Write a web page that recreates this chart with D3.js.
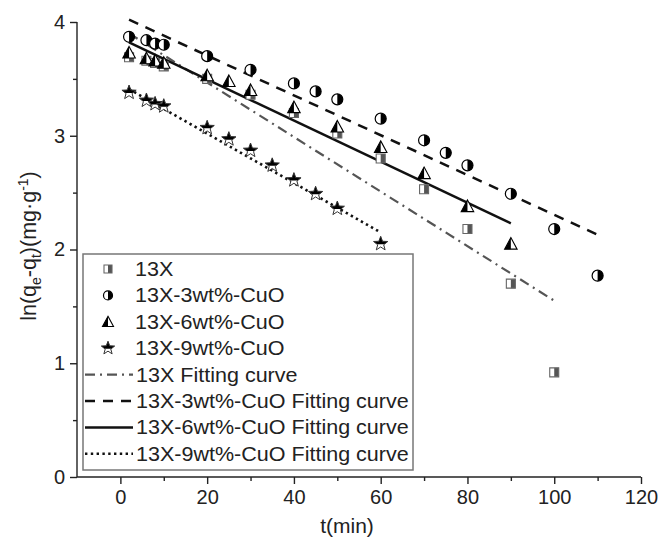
<!DOCTYPE html>
<html><head><meta charset="utf-8">
<script src="https://cdn.jsdelivr.net/npm/d3@7"></script>
<style>
html,body{margin:0;padding:0;background:#fff;}
text{font-family:"Liberation Sans",Arial,sans-serif;}
</style></head>
<body><svg id="c" width="658" height="551"></svg>
<script>
// ---- data ----
const t13X = [2,6,8,10,20,30,40,50,60,70,80,90,100];
const y13X = [3.69,3.66,3.64,3.61,3.50,3.36,3.20,3.02,2.80,2.53,2.18,1.70,0.92];
const t3 = [2,6,8,10,20,30,40,45,50,60,70,75,80,90,100,110];
const y3 = [3.87,3.84,3.81,3.80,3.70,3.58,3.46,3.39,3.32,3.15,2.96,2.85,2.74,2.49,2.18,1.77];
const t6 = [2,6,8,10,20,25,30,40,50,60,70,80,90];
const y6 = [3.73,3.68,3.66,3.64,3.53,3.48,3.40,3.25,3.08,2.90,2.67,2.38,2.05];
const t9 = [2,6,8,10,20,25,30,35,40,45,50,60];
const y9 = [3.38,3.31,3.28,3.26,3.07,2.97,2.87,2.74,2.61,2.49,2.36,2.05];
const fitT13X = [2,100], fitY13X = [3.90,1.55];
const fitT3 = [2,110], fitY3 = [4.02,2.13];
const fitT6 = [2,90], fitY6 = [3.82,2.23];
const fitT9 = [2,60], fitY9 = [3.41,2.15];
const xTicks = [0,20,40,60,80,100,120];
const yTicks = [0,1,2,3,4];
const legendLabels = ["13X","13X-3wt%-CuO","13X-6wt%-CuO","13X-9wt%-CuO",
  "13X Fitting curve","13X-3wt%-CuO Fitting curve","13X-6wt%-CuO Fitting curve","13X-9wt%-CuO Fitting curve"];

const svg = d3.select("#c");
const x = d3.scaleLinear().domain([-10,120]).range([77,641]);
const y = d3.scaleLinear().domain([0,4]).range([477,22]);
const defs = svg.append("defs");

// axes
const gx = svg.append("g").attr("transform","translate(0,477)")
  .call(d3.axisBottom(x).tickValues(xTicks).tickSize(7).tickPadding(6).tickFormat(d3.format("d")));
svg.append("g").attr("transform","translate(0,477)")
  .call(d3.axisBottom(x).tickValues([10,30,50,70,90,110]).tickSize(4).tickFormat(""))
  .select(".domain").remove();
const gy = svg.append("g").attr("transform","translate(77,0)")
  .call(d3.axisLeft(y).tickValues(yTicks).tickSize(7).tickPadding(5).tickFormat(d3.format("d")));
svg.append("g").attr("transform","translate(77,0)")
  .call(d3.axisLeft(y).tickValues([0.5,1.5,2.5,3.5]).tickSize(4).tickFormat(""))
  .select(".domain").remove();
svg.selectAll(".domain").attr("stroke","#222").attr("stroke-width",1.4);
svg.selectAll(".tick line").attr("stroke","#222").attr("stroke-width",1.4);
svg.selectAll(".tick text").attr("font-size",20).attr("fill","#222")
  .attr("font-family","'Liberation Sans',Arial,sans-serif");
gx.selectAll(".domain").attr("d","M77,0H641");
gy.selectAll(".domain").attr("d","M0,477V22");

// axis titles
svg.append("text").attr("x",347).attr("y",533).attr("text-anchor","middle")
  .attr("font-size",21).attr("fill","#222").text("t(min)");
const yl = svg.append("text").attr("transform","translate(36,246) rotate(-90)")
  .attr("text-anchor","middle").attr("font-size",21.5).attr("fill","#222");
yl.append("tspan").text("ln(q");
yl.append("tspan").attr("font-size",14).attr("dy",5).text("e");
yl.append("tspan").attr("dy",-5).text("-q");
yl.append("tspan").attr("font-size",14).attr("dy",5).text("t");
yl.append("tspan").attr("dy",-5).text(")(mg·g");
yl.append("tspan").attr("font-size",14).attr("dy",-8).text("-1");
yl.append("tspan").attr("dy",8).text(")");

// fit lines
const line = d3.line().x(d=>x(d[0])).y(d=>y(d[1]));
const fitStyles = [
  {t:fitT13X, y:fitY13X, stroke:"#555", w:2.2, dash:"10,5,2,5"},
  {t:fitT3, y:fitY3, stroke:"#111", w:2.5, dash:"10,8"},
  {t:fitT6, y:fitY6, stroke:"#111", w:2.5, dash:null},
  {t:fitT9, y:fitY9, stroke:"#111", w:2.6, dash:"2.4,3.4"}
];
fitStyles.forEach(f=>{
  svg.append("path").datum(f.t.map((t,i)=>[t,f.y[i]])).attr("d",line)
    .attr("fill","none").attr("stroke",f.stroke).attr("stroke-width",f.w)
    .attr("stroke-dasharray",f.dash);
});

// marker drawing helpers
let clipId = 0;
function halfMarker(g, pathD, clipRect, halfFill, stroke, sw){
  const id = "clp"+(clipId++);
  defs.append("clipPath").attr("id",id).append("rect")
    .attr("x",clipRect[0]).attr("y",clipRect[1]).attr("width",clipRect[2]).attr("height",clipRect[3]);
  g.append("path").attr("d",pathD).attr("fill","#fff");
  g.append("path").attr("d",pathD).attr("fill",halfFill).attr("clip-path","url(#"+id+")");
  g.append("path").attr("d",pathD).attr("fill","none").attr("stroke",stroke).attr("stroke-width",sw);
}
function square(g,s){ const h=s/2; halfMarker(g,`M${-h},${-h}H${h}V${h}H${-h}Z`,[0,-h-2,h+2,s+4],"#555","#666",1.1); }
function circle(g,s){ const r=s/2; halfMarker(g,`M${-r},0A${r},${r} 0 1,0 ${r},0A${r},${r} 0 1,0 ${-r},0Z`,[0,-r-2,r+2,s+4],"#000","#000",1.2); }
function triangle(g,s){ const h=s*0.5; halfMarker(g,`M0,${-h}L${h},${h*0.85}L${-h},${h*0.85}Z`,[-h-2,-h-2,h+2,s+4],"#000","#000",1.1); }
function star(g,s){
  const R=s/2, r=R*0.42; let pts=[];
  for(let i=0;i<10;i++){const a=-Math.PI/2+i*Math.PI/5; const rr=i%2?r:R; pts.push([rr*Math.cos(a),rr*Math.sin(a)]);}
  const d="M"+pts.map(p=>p[0].toFixed(2)+","+p[1].toFixed(2)).join("L")+"Z";
  halfMarker(g,d,[-R-2,-R-2,s+4,R+2+0.5],"#000","#333",1.0);
}
const series = [
  {t:t13X, y:y13X, fn:square, s:9},
  {t:t3, y:y3, fn:circle, s:11},
  {t:t6, y:y6, fn:triangle, s:12.5},
  {t:t9, y:y9, fn:star, s:15}
];
series.forEach(se=>{
  se.t.forEach((t,i)=>{
    const g = svg.append("g").attr("transform",`translate(${x(t)},${y(se.y[i])})`);
    se.fn(g,se.s);
  });
});

// legend
const lg = svg.append("g");
lg.append("rect").attr("x",83).attr("y",254).attr("width",330).attr("height",216)
  .attr("fill","#fff").attr("stroke","#777").attr("stroke-width",1.5);
const rowY0 = 269, rowDy = 26.4;
legendLabels.forEach((lab,i)=>{
  const cy = rowY0 + i*rowDy;
  if(i<4){
    const g = lg.append("g").attr("transform",`translate(108,${cy})`);
    series[i].fn(g,[8,9,11,14][i]);
  } else {
    const f = fitStyles[i-4];
    lg.append("line").attr("x1",85).attr("x2",133).attr("y1",cy).attr("y2",cy)
      .attr("stroke",f.stroke).attr("stroke-width",f.w).attr("stroke-dasharray",f.dash);
  }
  const tx = lg.append("text").attr("x", i<4?135:136).attr("y",cy+7).attr("font-size",20.5)
    .attr("fill","#222").text(lab);
  const w = tx.node().getComputedTextLength();
  tx.attr("textLength", w*1.05).attr("lengthAdjust","spacingAndGlyphs");
});
</script></body></html>
